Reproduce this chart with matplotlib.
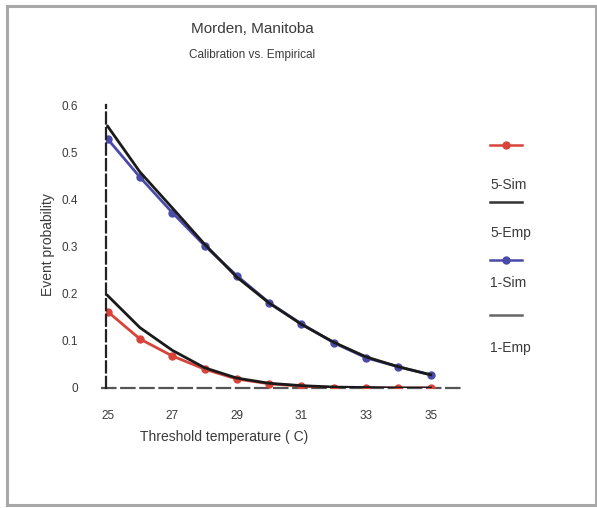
import matplotlib
matplotlib.use("Agg")
import matplotlib.pyplot as plt
from matplotlib.lines import Line2D
from matplotlib.patches import Rectangle

plt.rcParams['font.family'] = ['Liberation Sans', 'DejaVu Sans']

temps = [25, 26, 27, 28, 29, 30, 31, 32, 33, 34, 35]
sim5 = [0.162, 0.104, 0.068, 0.040, 0.019, 0.009, 0.004, 0.001, 0.0, 0.0, 0.0]
emp5 = [0.196, 0.128, 0.080, 0.043, 0.021, 0.010, 0.005, 0.002, 0.001, 0.0, 0.0]
sim1 = [0.528, 0.447, 0.372, 0.302, 0.238, 0.181, 0.136, 0.096, 0.064, 0.045, 0.028]
emp1 = [0.555, 0.458, 0.382, 0.305, 0.235, 0.180, 0.135, 0.097, 0.066, 0.045, 0.028]
xticks = [25, 27, 29, 31, 33, 35]
yticks = [0, 0.1, 0.2, 0.3, 0.4, 0.5, 0.6]
legend_labels = ['5-Sim', '5-Emp', '1-Sim', '1-Emp']

W, H = 597, 508
fig = plt.figure(figsize=(W / 100, H / 100), dpi=100)
fig.patch.set_facecolor('white')

# outer frame
fig.patches.append(Rectangle((7 / W, 1 - 505 / H), (596 - 7) / W, (505 - 6) / H,
                             transform=fig.transFigure, fill=False,
                             edgecolor='#a8a8a8', linewidth=2.2))

ax = fig.add_axes([106 / W, 1 - 388 / H, 357 / W, 283 / H])
red = '#d8443a'
blue = '#4a4aa8'
txtc = '#3a3a3a'

ax.plot(temps, emp1, color='#1a1a1a', lw=2.0, zorder=3)
ax.plot(temps, sim1, color=blue, lw=2.0, marker='o', ms=5, zorder=2)
ax.plot(temps, emp5, color='#1a1a1a', lw=2.0, zorder=3)
ax.plot(temps, sim5, color=red, lw=2.0, marker='o', ms=5, zorder=2)

ax.set_xlim(24.95, 36.0)
ax.set_ylim(0, 0.6)
ax.set_xticks(xticks)
ax.set_xticklabels([str(t) for t in xticks])
ax.set_yticks(yticks)
ax.set_yticklabels(['0', '0.1', '0.2', '0.3', '0.4', '0.5', '0.6'])
ax.tick_params(length=0, labelsize=8.5, labelcolor=txtc)
ax.tick_params(axis='y', pad=20)
ax.tick_params(axis='x', pad=16)

for s in ['top', 'right']:
    ax.spines[s].set_visible(False)
ax.spines['left'].set_linestyle((0, (5, 2)))
ax.spines['left'].set_color('#222222')
ax.spines['left'].set_linewidth(1.6)
ax.spines['bottom'].set_visible(False)
ax.plot([24.8, 36.0], [0, 0], color='#555555', lw=1.6, ls=(0, (7, 1.6)),
        clip_on=False, zorder=1)

fig.text(48 / W, 1 - 245 / H, 'Event probability', rotation=90, ha='center',
         va='center', fontsize=10, color=txtc)
fig.text(224 / W, 1 - 437 / H, 'Threshold temperature ( C)', ha='center',
         va='center', fontsize=10, color=txtc)
fig.text(252 / W, 1 - 29 / H, 'Morden, Manitoba', ha='center', va='center',
         fontsize=11, color=txtc)
fig.text(252 / W, 1 - 55 / H, 'Calibration vs. Empirical', ha='center',
         va='center', fontsize=8.5, color=txtc)

# legend
leg_y_lines = [145, 202, 260, 315]
leg_y_text = [185, 233, 283, 348]
handles = [(red, True), ('#333333', False), (blue, True), ('#666666', False)]
for (c, mk), yl, yt, lab in zip(handles, leg_y_lines, leg_y_text, legend_labels):
    fig.add_artist(Line2D([490 / W, 522 / W], [1 - yl / H, 1 - yl / H],
                          transform=fig.transFigure, color=c, lw=1.8))
    if mk:
        fig.add_artist(Line2D([506 / W], [1 - yl / H], transform=fig.transFigure,
                              color=c, marker='o', ms=5, lw=0))
    fig.text(490 / W, 1 - yt / H, lab, ha='left', va='center', fontsize=10,
             color=txtc)

fig.savefig('out.png', dpi=100)
